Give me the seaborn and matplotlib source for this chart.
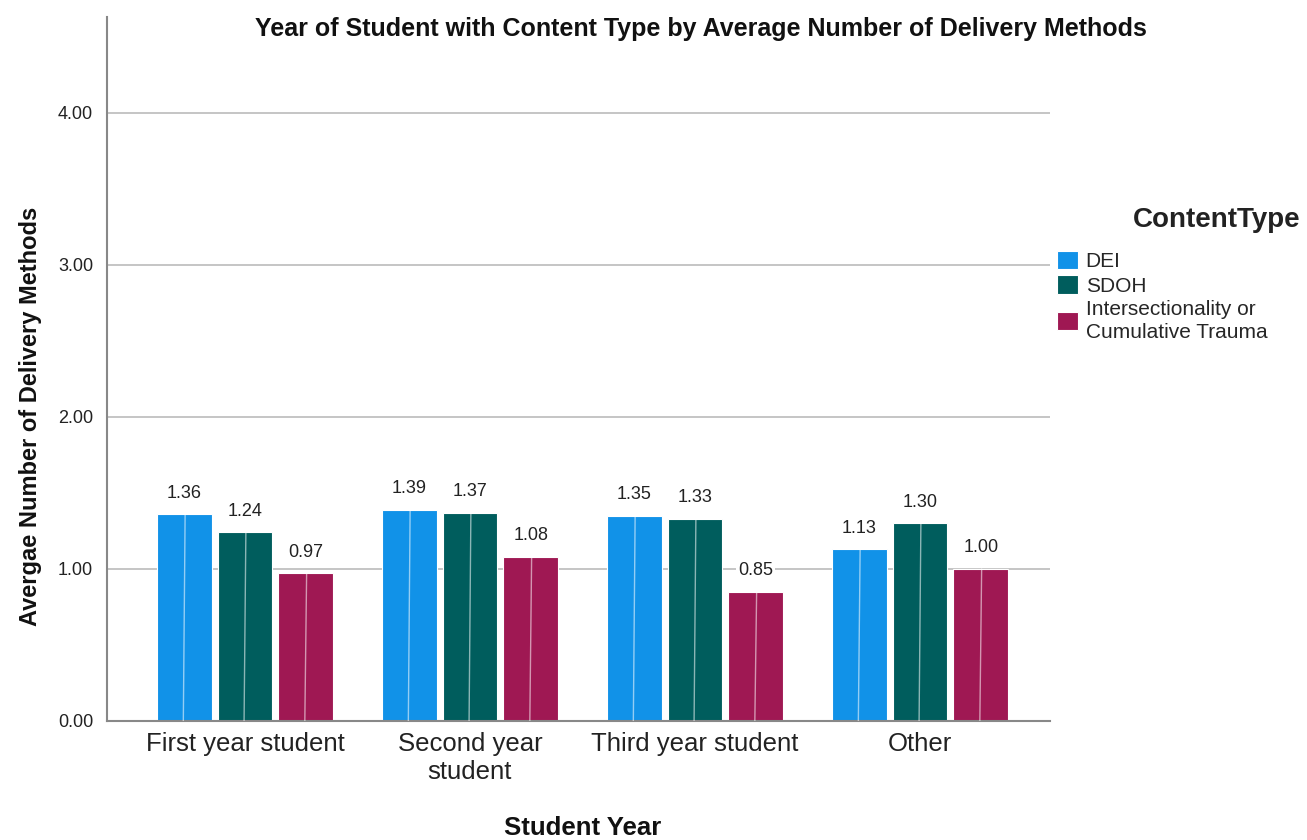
import matplotlib
matplotlib.use("Agg")
import matplotlib.pyplot as plt
import seaborn as sns
import pandas as pd

years = ["First year student", "Second year\nstudent", "Third year student", "Other"]
content_types = ["DEI", "SDOH", "Intersectionality or\nCumulative Trauma"]
dei = [1.36, 1.39, 1.35, 1.13]
sdoh = [1.24, 1.37, 1.33, 1.30]
inter = [0.97, 1.08, 0.85, 1.00]
colors = ["#1192E8", "#005D5D", "#9F1853"]

rows = []
for ct, vals in zip(content_types, [dei, sdoh, inter]):
    for y, v in zip(years, vals):
        rows.append({"Year": y, "ContentType": ct, "Value": v})
df = pd.DataFrame(rows)

sns.set_theme(style="white")
plt.rcParams['font.family'] = ['Liberation Sans', 'DejaVu Sans']

fig = plt.figure(figsize=(13.07, 8.4), dpi=100)
ax = fig.add_axes([0.0819, 0.1417, 0.7215, 0.838])

sns.barplot(data=df, x="Year", y="Value", hue="ContentType", order=years,
            hue_order=content_types, palette=colors, width=0.81, gap=0.1,
            saturation=1, ax=ax, errorbar=None, linewidth=0.8)

# thin light divider through each bar (as in the reference rendering)
for c in ax.containers:
    for p in c:
        xc = p.get_x() + p.get_width() / 2
        ax.plot([xc - 0.004, xc + 0.004], [0, p.get_height()], color="white",
                alpha=0.55, lw=1, zorder=3)

for c in ax.containers:
    ax.bar_label(c, fmt="%.2f", padding=9, fontsize=13, color="#222222",
                 bbox=dict(facecolor="white", edgecolor="none", pad=1.5))

ax.set_ylim(0, 4.63)
ax.set_xlim(-0.613, 3.578)
ax.set_yticks([0, 1, 2, 3, 4])
ax.set_yticklabels(["0.00", "1.00", "2.00", "3.00", "4.00"], fontsize=13, color="#222222")
ax.tick_params(axis="x", labelsize=18.5, colors="#222222", length=0, pad=8)
ax.tick_params(axis="y", length=0, pad=10)
for lbl in ax.get_xticklabels():
    lbl.set_color("#222222")
    lbl.set_linespacing(1.2)
ax.yaxis.grid(True, color="#bbbbbb", linewidth=1.2)
ax.set_axisbelow(True)
for s in ["top", "right"]:
    ax.spines[s].set_visible(False)
ax.spines["left"].set_color("#888888")
ax.spines["left"].set_linewidth(1.5)
ax.spines["bottom"].set_color("#888888")
ax.spines["bottom"].set_linewidth(1.5)

ax.set_xlabel("Student Year", fontsize=18.5, fontweight="bold", color="#111111", va="center")
ax.xaxis.set_label_coords(0.504, -0.152)
ax.set_ylabel("Avergae Number of Delivery Methods", fontsize=17, fontweight="bold",
              color="#111111", va="center")
ax.yaxis.set_label_coords(-0.081, 0.433)
fig.text(0.536, 0.966, "Year of Student with Content Type by Average Number of Delivery Methods",
         ha="center", va="center", fontsize=18, fontweight="bold", color="#111111")

leg = ax.legend(loc="upper left", bbox_to_anchor=(0.999, 0.68),
                frameon=False, fontsize=15, handlelength=1.0,
                handleheight=1.0, handletextpad=0.35, labelspacing=0.2, borderaxespad=0)
for t in leg.get_texts():
    t.set_linespacing(1.25)
fig.text(0.9947, 1 - 220 / 840, "ContentType", ha="right", va="center",
         fontsize=20, fontweight="bold", color="#222222")

fig.savefig("out.png", dpi=100)
